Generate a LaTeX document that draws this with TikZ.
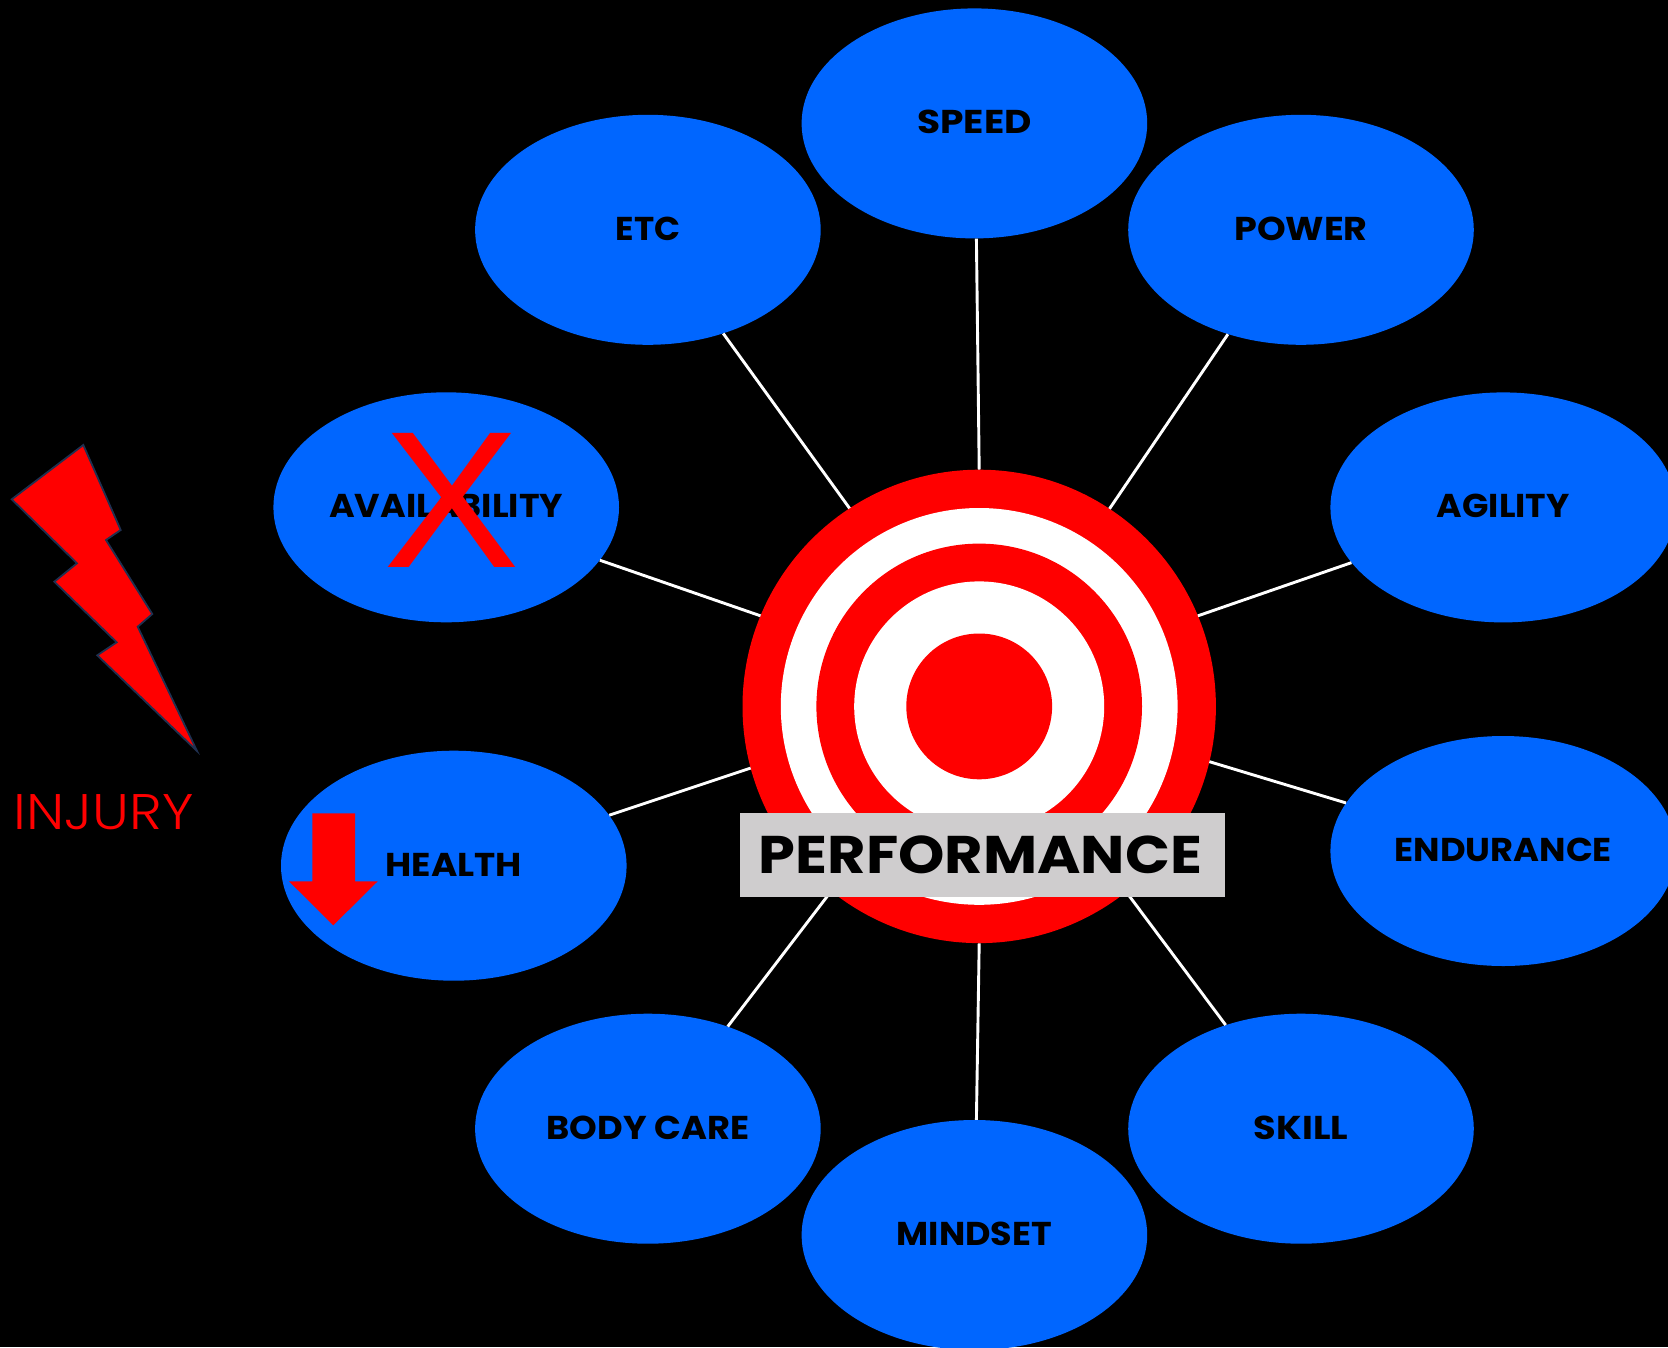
\documentclass[tikz,border=0pt]{standalone}
\usepackage{fontspec}
\usepackage{graphicx}
\usetikzlibrary{shapes.geometric}
\setmainfont{Poppins}
\newfontfamily\xfont{Liberation Sans}
\newfontfamily\lightfont{Poppins Light}
\definecolor{bluefill}{HTML}{0066FF}
\definecolor{redfill}{HTML}{FF0000}
\definecolor{greybox}{HTML}{CFCDCE}
\definecolor{boltedge}{HTML}{1F3050}
\newcommand{\lbl}[2]{\raisebox{2.5pt}{\scalebox{#1}[1]{#2}}}
\newcommand{\rim}[1]{([shift={(-#1:236.7)}]target.center)}
\tikzset{
  bubble/.style={ellipse,fill=bluefill,draw=none,minimum width=345.6pt,minimum height=230pt,inner sep=0pt,text=black,font=\fontsize{33}{33}\selectfont\bfseries},
  ring/.style={circle,draw=none,inner sep=0pt},
  spoke/.style={draw=white,line width=2.9pt},
  redshape/.style={fill=redfill,draw=none},
}
\begin{document}
\begin{tikzpicture}[x=1pt,y=-1pt]
\clip (0,0) rectangle (1668,1347);
\fill[black] (0,0) rectangle (1668,1347);
\node[bubble] (speed) at (974.4,123.4) {\lbl{1.138}{SPEED}};
\node[bubble] (etc) at (647.9,229.8) {\lbl{1.035}{ETC}};
\node[bubble] (power) at (1301,229.8) {\lbl{1.107}{POWER}};
\node[bubble] (avail) at (446.2,507.3) {\lbl{1.058}{AVAILABILITY}};
\node[bubble] (agility) at (1503.2,507.4) {\lbl{1.051}{AGILITY}};
\node[bubble] (health) at (453.8,865.7) {\lbl{1.085}{HEALTH}};
\node[bubble] (endurance) at (1503.2,851) {\lbl{1.068}{ENDURANCE}};
\node[bubble] (body) at (647.9,1128.7) {\lbl{1.068}{BODY CARE}};
\node[bubble] (skill) at (1301,1128.7) {\lbl{1.114}{SKILL}};
\node[bubble] (mindset) at (974.4,1235) {\lbl{1.059}{MINDSET}};
\node[ring,fill=redfill,minimum size=473.4pt] (target) at (979.2,706.4) {};
\node[ring,fill=white,minimum size=396.8pt] (ringb) at (target.center) {};
\node[ring,fill=redfill,minimum size=325.6pt] (ringc) at (target.center) {};
\node[ring,fill=white,minimum size=250pt] (ringd) at (target.center) {};
\node[ring,fill=redfill,minimum size=145.8pt] (bull) at (target.center) {};
\draw[spoke] (speed.-89.5) -- (target.90);
\draw[spoke] (etc.-54.1) -- \rim{123.2};
\draw[spoke] (power.-125.8) -- \rim{56.6};
\draw[spoke] (avail.-19.9) -- \rim{157.5};
\draw[spoke] (agility.200) -- \rim{22.5};
\draw[spoke] (health.18.4) -- \rim{195.1};
\draw[spoke] (endurance.163.7) -- \rim{346.5};
\draw[spoke] (body.52.9) -- \rim{231.3};
\draw[spoke] (skill.126.5) -- \rim{308.4};
\draw[spoke] (mindset.89) -- (target.-90);
\node[fill=greybox,minimum width=485pt,minimum height=84pt,inner sep=0pt,text=black,font=\fontsize{53}{53}\selectfont\bfseries] (perf) at (982.5,855) {\hspace{-4pt}\scalebox{1.113}[1]{PERFORMANCE}};
\node[inner sep=0pt,text=redfill,font=\xfont\fontsize{195}{195}\selectfont] (cross) at (451.3,500.5) {\scalebox{1.05}[1]{X}};
\fill[redshape] (312.3,813.3) -- (355,813.3) -- (355,881.3) -- (377.7,881.3) -- (333.3,925.3) -- (289,881.3) -- (312.3,881.3) -- cycle;
\filldraw[fill=redfill,draw=boltedge,line width=1.8pt] (83.3,445) -- (120.7,530) -- (106,540) -- (152.3,614) -- (137.7,626.7) -- (197,751) -- (97.3,655.3) -- (116.7,642.3) -- (54.3,581.7) -- (77,563.3) -- (11.7,499.3) -- cycle;
\node[inner sep=0pt,text=redfill,font=\lightfont\fontsize{50}{50}\selectfont] (injury) at (103.7,812) {\scalebox{1.113}[1]{INJURY}};
\end{tikzpicture}
\end{document}
